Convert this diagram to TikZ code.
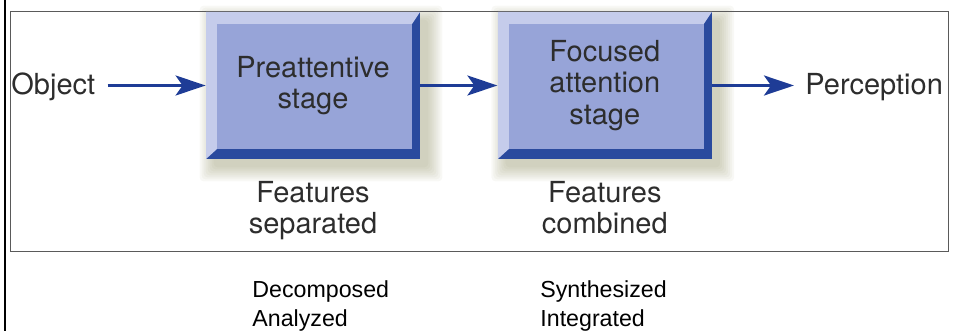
\documentclass[tikz,border=0pt]{standalone}
\usepackage{fontspec}
\setmainfont{TeX Gyre Heros}
\newfontfamily\notefont{Liberation Sans}
\usepackage{tikz}
\usetikzlibrary{arrows.meta,positioning,calc}
\pgfdeclarelayer{background}
\pgfsetlayers{background,main}
\definecolor{facec}{RGB}{151,164,216}
\definecolor{bevlight}{RGB}{197,204,235}
\definecolor{bevdark}{RGB}{42,74,158}
\definecolor{flowc}{RGB}{30,60,150}
\definecolor{inkc}{RGB}{45,45,45}
\definecolor{shadowc}{RGB}{130,130,80}
\definecolor{framec}{RGB}{90,90,90}

\begin{document}
\begin{tikzpicture}[x=0.5pt,y=-0.5pt,>={Stealth[length=15pt,width=10pt,inset=3.5pt]},
    stage/.style={fill=bevdark,minimum width=107pt,minimum height=73.5pt,inner sep=0pt,
        align=center,text=inkc,font=\fontsize{14.5}{15.75}\selectfont,
        path picture={
            \fill[bevlight] (path picture bounding box.south west)
                -- (path picture bounding box.north west)
                -- (path picture bounding box.north east)
                -- ([xshift=-4pt,yshift=-6pt]path picture bounding box.north east)
                -- ([xshift=5.5pt,yshift=-6pt]path picture bounding box.north west)
                -- ([xshift=5.5pt,yshift=5pt]path picture bounding box.south west) -- cycle;
            \fill[facec] ([xshift=5.5pt,yshift=5pt]path picture bounding box.south west)
                rectangle ([xshift=-4pt,yshift=-6pt]path picture bounding box.north east);
        }},
    word/.style={inner sep=0pt,text=inkc,font=\fontsize{14.5}{15.5}\selectfont},
    caption/.style={inner sep=0pt,align=center,text=inkc,font=\fontsize{14.5}{15.25}\selectfont},
    remark/.style={inner sep=0pt,align=left,font=\notefont\fontsize{11.6}{14.5}\selectfont},
    flow/.style={->,draw=flowc,line width=1.5pt}]
    \useasboundingbox (0,0) rectangle (953,331);

    % outer rule and frame
    \draw[line width=1pt] (5,0) -- (5,331);
    \draw[framec,line width=0.5pt] (10,12) rectangle (948,252);

    \node [stage] (pre) at (313,85.5) {Preattentive\\stage};
    \node [stage] (foc) [right=38.5pt of pre] {Focused\\attention\\stage};

    % soft shadows behind the stages
    \begin{pgfonlayer}{background}
    \foreach \b in {pre,foc}
        \foreach \i in {0,...,7}
            \fill[shadowc,opacity=0.055,rounded corners=2pt]
                ($(\b.north west)+({8-2*\i},{8-2*\i})$) rectangle ($(\b.south east)+({8+2*\i},{8+2*\i})$);
    \end{pgfonlayer}

    \node [word,anchor=base west] (obj) at (11,95) {Object};
    \node [word,anchor=base west] (perc) at (805,95) {Perception};

    \node [caption] (sep) [below=11pt of pre] {Features\\separated};
    \node [caption] (comb) [below=11pt of foc] {Features\\combined};

    \node [remark,anchor=north west] (dec) at (252,280) {Decomposed\\Analyzed};
    \node [remark,anchor=north west] (syn) at (540,280) {Synthesized\\Integrated};

    \draw[flow,shorten <=6pt] (obj.east |- pre) -- (pre);
    \draw[flow] (pre) -- (foc);
    \draw[flow,shorten >=5.5pt] (foc) -- (perc.west |- foc);

\end{tikzpicture}
\end{document}
